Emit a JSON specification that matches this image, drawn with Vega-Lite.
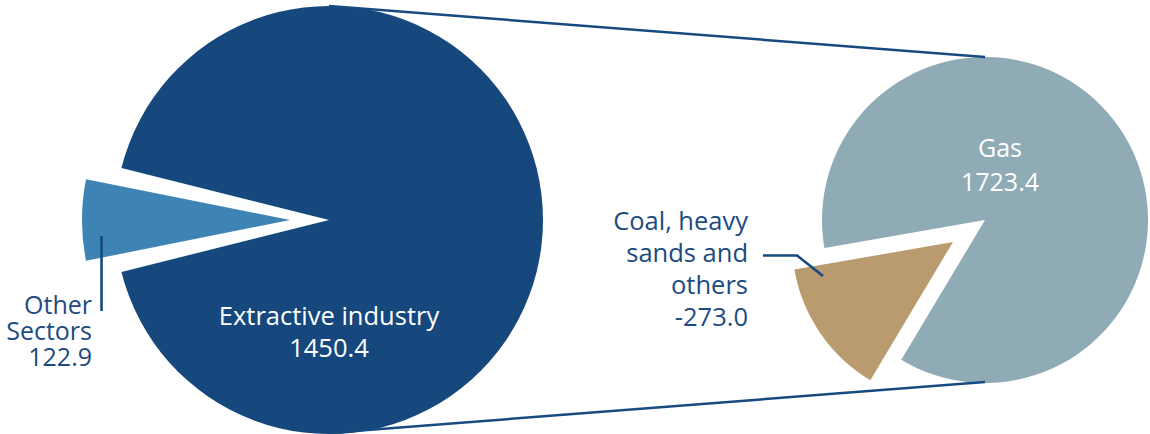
{
  "$schema": "https://vega.github.io/schema/vega-lite/v6.json",
  "width": 1150,
  "height": 434,
  "autosize": {"type": "fit", "contains": "padding"},
  "padding": 0,
  "background": "white",
  "config": {"view": {"stroke": null}, "text": {"font": "Open Sans"}},
  "datasets": {
    "slices": [
      {"pie": "Total", "category": "Extractive industry", "value": 1450.4, "share": 1450.4, "label": "Extractive industry\n1450.4"},
      {"pie": "Total", "category": "Other Sectors", "value": 122.9, "share": 122.9, "label": "Other\nSectors\n122.9"},
      {"pie": "Extractive", "category": "Gas", "value": 1723.4, "share": 1723.4, "label": "Gas\n1723.4"},
      {"pie": "Extractive", "category": "Coal, heavy sands and others", "value": -273.0, "share": 273.0, "label": "Coal, heavy\nsands and\nothers\n-273.0"}
    ]
  },
  "resolve": {"scale": {"theta": "independent", "y": "independent"}},
  "layer": [
    {
      "data": {"name": "slices"},
      "transform": [{"filter": "datum.pie === 'Total'"}],
      "mark": {"type": "arc", "radius": 214},
      "encoding": {
        "x": {"field": "pie", "type": "nominal", "axis": null, "scale": {"type": "point", "domain": ["Total", "Extractive"], "range": [329, 985], "padding": 0}},
        "y": {"field": "pie", "type": "nominal", "axis": null, "scale": {"type": "point", "domain": ["Total", "Extractive"], "range": [220, 220], "padding": 0}},
        "theta": {"field": "share", "type": "quantitative", "stack": true, "scale": {"range": [4.9578, 11.241]}},
        "order": {"field": "category", "type": "nominal", "sort": "ascending"},
        "color": {"field": "category", "type": "nominal", "legend": null, "scale": {"domain": ["Extractive industry", "Other Sectors", "Gas", "Coal, heavy sands and others"], "range": ["#16487e", "#3d84b4", "#8fabb6", "#b99b6f"]}},
        "opacity": {"condition": {"test": "datum.category === 'Other Sectors'", "value": 0}, "value": 1}
      }
    },
    {
      "data": {"name": "slices"},
      "transform": [{"filter": "datum.pie === 'Total'"}],
      "mark": {"type": "arc", "radius": 208, "padAngle": 0.096, "xOffset": -39},
      "encoding": {
        "x": {"field": "pie", "type": "nominal", "axis": null, "scale": {"type": "point", "domain": ["Total", "Extractive"], "range": [329, 985], "padding": 0}},
        "y": {"field": "pie", "type": "nominal", "axis": null, "scale": {"type": "point", "domain": ["Total", "Extractive"], "range": [220, 220], "padding": 0}},
        "theta": {"field": "share", "type": "quantitative", "stack": true, "scale": {"range": [4.9578, 11.241]}},
        "order": {"field": "category", "type": "nominal", "sort": "ascending"},
        "color": {"field": "category", "type": "nominal", "legend": null},
        "opacity": {"condition": {"test": "datum.category === 'Other Sectors'", "value": 1}, "value": 0}
      }
    },
    {
      "data": {"name": "slices"},
      "transform": [{"filter": "datum.pie === 'Extractive'"}],
      "mark": {"type": "arc", "radius": 163},
      "encoding": {
        "x": {"field": "pie", "type": "nominal", "axis": null, "scale": {"type": "point", "domain": ["Total", "Extractive"], "range": [329, 985], "padding": 0}},
        "y": {"field": "pie", "type": "nominal", "axis": null, "scale": {"type": "point", "domain": ["Total", "Extractive"], "range": [220, 220], "padding": 0}},
        "theta": {"field": "share", "type": "quantitative", "stack": true, "scale": {"range": [3.6809, 9.9641]}},
        "order": {"field": "category", "type": "nominal", "sort": "ascending"},
        "color": {"field": "category", "type": "nominal", "legend": null},
        "opacity": {"condition": {"test": "datum.category === 'Gas'", "value": 1}, "value": 0}
      }
    },
    {
      "data": {"name": "slices"},
      "transform": [{"filter": "datum.pie === 'Extractive'"}],
      "mark": {"type": "arc", "radius": 161, "xOffset": -32, "yOffset": 22},
      "encoding": {
        "x": {"field": "pie", "type": "nominal", "axis": null, "scale": {"type": "point", "domain": ["Total", "Extractive"], "range": [329, 985], "padding": 0}},
        "y": {"field": "pie", "type": "nominal", "axis": null, "scale": {"type": "point", "domain": ["Total", "Extractive"], "range": [220, 220], "padding": 0}},
        "theta": {"field": "share", "type": "quantitative", "stack": true, "scale": {"range": [3.6809, 9.9641]}},
        "order": {"field": "category", "type": "nominal", "sort": "ascending"},
        "color": {"field": "category", "type": "nominal", "legend": null},
        "opacity": {"condition": {"test": "datum.category === 'Gas'", "value": 0}, "value": 1}
      }
    },
    {
      "data": {"name": "slices"},
      "transform": [{"aggregate": [{"op": "count", "as": "n"}], "groupby": ["pie"]}],
      "mark": {"type": "line", "color": "#174a7e", "strokeWidth": 2.5},
      "encoding": {
        "x": {"field": "pie", "type": "nominal", "axis": null, "scale": {"type": "point", "domain": ["Total", "Extractive"], "range": [329, 985], "padding": 0}},
        "y": {"field": "pie", "type": "nominal", "axis": null, "scale": {"type": "point", "domain": ["Total", "Extractive"], "range": [6, 57], "padding": 0}}
      }
    },
    {
      "data": {"name": "slices"},
      "transform": [{"aggregate": [{"op": "count", "as": "n"}], "groupby": ["pie"]}],
      "mark": {"type": "line", "color": "#174a7e", "strokeWidth": 2.5},
      "encoding": {
        "x": {"field": "pie", "type": "nominal", "axis": null, "scale": {"type": "point", "domain": ["Total", "Extractive"], "range": [329, 985], "padding": 0}},
        "y": {"field": "pie", "type": "nominal", "axis": null, "scale": {"type": "point", "domain": ["Total", "Extractive"], "range": [433, 382], "padding": 0}}
      }
    },
    {
      "data": {"name": "slices"},
      "transform": [{"filter": "datum.category === 'Other Sectors'"}],
      "mark": {"type": "rule", "color": "#174a7e", "strokeWidth": 2.6, "xOffset": -227.5, "x2Offset": -227.5, "yOffset": 16, "y2Offset": 91},
      "encoding": {
        "x": {"field": "pie", "type": "nominal", "axis": null, "scale": {"type": "point", "domain": ["Total", "Extractive"], "range": [329, 985], "padding": 0}},
        "x2": {"field": "pie"},
        "y": {"field": "pie", "type": "nominal", "axis": null, "scale": {"type": "point", "domain": ["Total", "Extractive"], "range": [220, 220], "padding": 0}},
        "y2": {"field": "pie"}
      }
    },
    {
      "data": {"name": "slices"},
      "transform": [{"filter": "datum.category === 'Coal, heavy sands and others'"}],
      "mark": {"type": "rule", "color": "#174a7e", "strokeWidth": 2.6, "xOffset": -222, "x2Offset": -187, "yOffset": 35.5, "y2Offset": 35.5},
      "encoding": {
        "x": {"field": "pie", "type": "nominal", "axis": null, "scale": {"type": "point", "domain": ["Total", "Extractive"], "range": [329, 985], "padding": 0}},
        "x2": {"field": "pie"},
        "y": {"field": "pie", "type": "nominal", "axis": null, "scale": {"type": "point", "domain": ["Total", "Extractive"], "range": [220, 220], "padding": 0}},
        "y2": {"field": "pie"}
      }
    },
    {
      "data": {"name": "slices"},
      "transform": [{"filter": "datum.category === 'Coal, heavy sands and others'"}],
      "mark": {"type": "rule", "color": "#174a7e", "strokeWidth": 2.6, "xOffset": -188, "x2Offset": -162, "yOffset": 35.5, "y2Offset": 56},
      "encoding": {
        "x": {"field": "pie", "type": "nominal", "axis": null, "scale": {"type": "point", "domain": ["Total", "Extractive"], "range": [329, 985], "padding": 0}},
        "x2": {"field": "pie"},
        "y": {"field": "pie", "type": "nominal", "axis": null, "scale": {"type": "point", "domain": ["Total", "Extractive"], "range": [220, 220], "padding": 0}},
        "y2": {"field": "pie"}
      }
    },
    {
      "data": {"name": "slices"},
      "transform": [{"filter": "datum.category === 'Extractive industry'"}],
      "mark": {"type": "text", "align": "center", "baseline": "alphabetic", "dx": 0, "dy": 105, "fontSize": 25.5, "lineHeight": 32, "lineBreak": "\n", "color": "white"},
      "encoding": {
        "x": {"field": "pie", "type": "nominal", "axis": null, "scale": {"type": "point", "domain": ["Total", "Extractive"], "range": [329, 985], "padding": 0}},
        "y": {"field": "pie", "type": "nominal", "axis": null, "scale": {"type": "point", "domain": ["Total", "Extractive"], "range": [220, 220], "padding": 0}},
        "text": {"field": "label"}
      }
    },
    {
      "data": {"name": "slices"},
      "transform": [{"filter": "datum.category === 'Gas'"}],
      "mark": {"type": "text", "align": "center", "baseline": "alphabetic", "dx": 15, "dy": -63, "fontSize": 25, "lineHeight": 34, "lineBreak": "\n", "color": "white"},
      "encoding": {
        "x": {"field": "pie", "type": "nominal", "axis": null, "scale": {"type": "point", "domain": ["Total", "Extractive"], "range": [329, 985], "padding": 0}},
        "y": {"field": "pie", "type": "nominal", "axis": null, "scale": {"type": "point", "domain": ["Total", "Extractive"], "range": [220, 220], "padding": 0}},
        "text": {"field": "label"}
      }
    },
    {
      "data": {"name": "slices"},
      "transform": [{"filter": "datum.category === 'Other Sectors'"}],
      "mark": {"type": "text", "align": "right", "baseline": "alphabetic", "dx": -237, "dy": 94, "fontSize": 25, "lineHeight": 26, "lineBreak": "\n", "color": "#1b4b80"},
      "encoding": {
        "x": {"field": "pie", "type": "nominal", "axis": null, "scale": {"type": "point", "domain": ["Total", "Extractive"], "range": [329, 985], "padding": 0}},
        "y": {"field": "pie", "type": "nominal", "axis": null, "scale": {"type": "point", "domain": ["Total", "Extractive"], "range": [220, 220], "padding": 0}},
        "text": {"field": "label"}
      }
    },
    {
      "data": {"name": "slices"},
      "transform": [{"filter": "datum.category === 'Coal, heavy sands and others'"}],
      "mark": {"type": "text", "align": "right", "baseline": "alphabetic", "dx": -237, "dy": 10, "fontSize": 25.5, "lineHeight": 32, "lineBreak": "\n", "color": "#1b4b80"},
      "encoding": {
        "x": {"field": "pie", "type": "nominal", "axis": null, "scale": {"type": "point", "domain": ["Total", "Extractive"], "range": [329, 985], "padding": 0}},
        "y": {"field": "pie", "type": "nominal", "axis": null, "scale": {"type": "point", "domain": ["Total", "Extractive"], "range": [220, 220], "padding": 0}},
        "text": {"field": "label"}
      }
    }
  ]
}
